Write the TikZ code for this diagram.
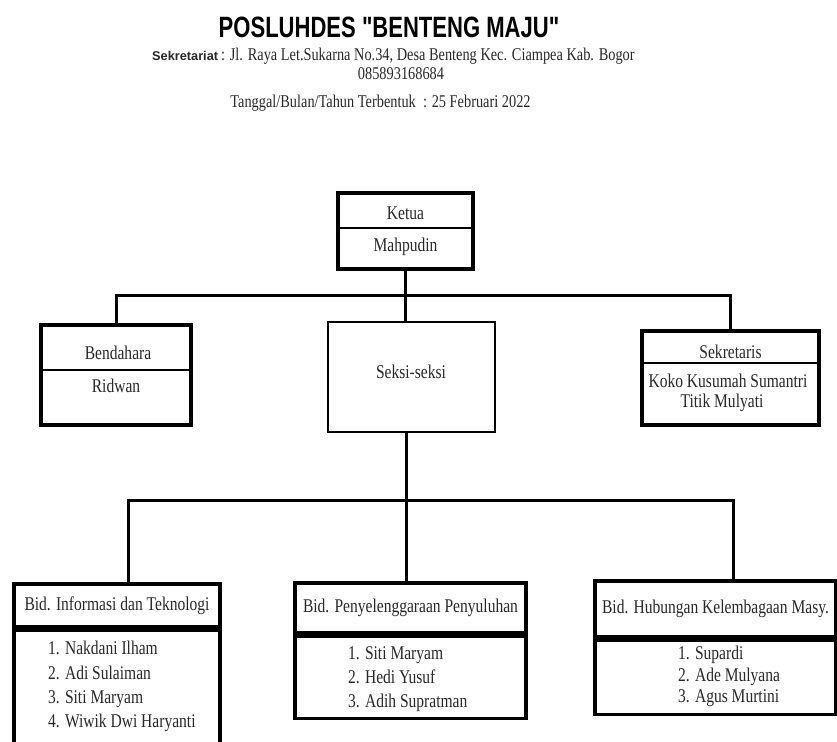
\documentclass[tikz,border=0pt]{standalone}
\usepackage{fontspec}
\setmainfont{Liberation Serif}[FakeStretch=0.8]
\newfontfamily\titlefont{Liberation Sans}[FakeStretch=0.75]
\newfontfamily\labelfont{Liberation Sans}
\usepackage{xcolor}
\definecolor{inkgray}{RGB}{40,40,40}
\usetikzlibrary{calc}

\begin{document}
\begin{tikzpicture}[x=1bp, y=-1bp,
    thickbox/.style={draw, line width=3.5bp, inner sep=0pt},
    thinbox/.style={draw, line width=2.5bp, inner sep=0pt},
    txt/.style={inner sep=0pt, text=inkgray, font=\fontsize{19.5}{24}\selectfont},
    headtxt/.style={inner sep=0pt, text=inkgray, font=\fontsize{18}{22}\selectfont},
    item/.style={txt, anchor=west, text height=13bp, text depth=4bp},
    bus/.style={line width=3bp},
    divider/.style={line width=1.3bp}]
    \clip (0,0) rectangle (837,742);

    % Kop
    \node[inner sep=0pt, font=\titlefont\bfseries\fontsize{29.5}{32}\selectfont] (title) at (389,27.5) {POSLUHDES "BENTENG MAJU"};
    \node[headtxt, anchor=west] (alamat) at (152,56) {{\labelfont\bfseries\fontsize{12.8}{14}\selectfont Sekretariat}\,: Jl. Raya Let.Sukarna No.34, Desa Benteng Kec. Ciampea Kab. Bogor};
    \node[headtxt] (telp) at (401,74) {085893168684};
    \node[headtxt] (tanggal) at (380.5,103) {Tanggal/Bulan/Tahun Terbentuk\ \ : 25 Februari 2022};

    % Ketua
    \node[thickbox, minimum width=135bp, minimum height=76bp] (ketua) at (405.5,231) {};
    \node[txt] (ketuaT) at (405.5,213) {Ketua};
    \draw[divider] (ketua.west |- 0,228) -- (ketua.east |- 0,228);
    \node[txt] (ketuaN) at (405.5,247) {Mahpudin};

    % Bendahara, seksi-seksi, sekretaris
    \node[thickbox, minimum width=150bp, minimum height=100bp] (bendahara) at (116,375) {};
    \node[txt] (bendaharaT) at (118,353) {Bendahara};
    \draw[divider] (bendahara.west |- 0,370) -- (bendahara.east |- 0,370);
    \node[txt] (bendaharaN) at (116,386) {Ridwan};

    \node[thinbox, minimum width=167bp, minimum height=110bp] (seksi) at (411.5,377) {};
    \node[txt] (seksiT) at (411,372) {Seksi-seksi};

    \node[thickbox, minimum width=177bp, minimum height=94bp] (sekretaris) at (730.5,378) {};
    \node[txt] (sekretarisT) at (730.5,352) {Sekretaris};
    \draw[divider] (sekretaris.west |- 0,363) -- (sekretaris.east |- 0,363);
    \node[txt] (sekretarisN1) at (728,381) {Koko Kusumah Sumantri};
    \node[txt] (sekretarisN2) at (722,403) {Titik Mulyati};

    % Garis atas
    \coordinate (topbus) at (405.5,295);
    \draw[bus] (ketua.south) -- (topbus);
    \draw[bus] (bendahara.north) -- (bendahara.north |- topbus) -- (sekretaris.north |- topbus) -- (sekretaris.north);
    \draw[bus] (topbus) -- (topbus |- seksi.north);

    % Bidang-bidang
    \node[thickbox, minimum width=206bp, minimum height=43bp] (infohead) at (117,605.5) {};
    \node[txt] at (infohead) {Bid. Informasi dan Teknologi};
    \node[thickbox, minimum width=206bp, minimum height=133bp, anchor=north] (infobody) at (infohead.south) {};
    \foreach \n/\who in {1/Nakdani Ilham, 2/Adi Sulaiman, 3/Siti Maryam, 4/Wiwik Dwi Haryanti}
        \node[item] (info\n) at (48,626+24.3*\n) {\n. \who};

    \node[thickbox, minimum width=231bp, minimum height=50bp] (penyhead) at (410.5,608) {};
    \node[txt] at (penyhead) {Bid. Penyelenggaraan Penyuluhan};
    \node[thickbox, minimum width=231bp, minimum height=82bp, anchor=north] (penybody) at (penyhead.south) {};
    \foreach \n/\who in {1/Siti Maryam, 2/Hedi Yusuf, 3/Adih Supratman}
        \node[item] (peny\n) at (348,631+24*\n) {\n. \who};

    \node[thickbox, minimum width=241bp, minimum height=56bp] (hubhead) at (715.5,609) {};
    \node[txt] at (hubhead) {Bid. Hubungan Kelembagaan Masy.};
    \node[thickbox, minimum width=241bp, minimum height=74bp, anchor=north] (hubbody) at (hubhead.south) {};
    \foreach \n/\who in {1/Supardi, 2/Ade Mulyana, 3/Agus Murtini}
        \node[item] (hub\n) at (678,633.5+21.5*\n) {\n. \who};

    % Garis bawah
    \coordinate (lowbus) at (406,500);
    \draw[bus] (lowbus |- seksi.south) -- (lowbus);
    \draw[bus] ([xshift=11bp]infohead.north) -- ([xshift=11bp]infohead.north |- lowbus) -- ([xshift=17.5bp]hubhead.north |- lowbus) -- ([xshift=17.5bp]hubhead.north);
    \draw[bus] (lowbus) -- (lowbus |- penyhead.north);
\end{tikzpicture}
\end{document}
